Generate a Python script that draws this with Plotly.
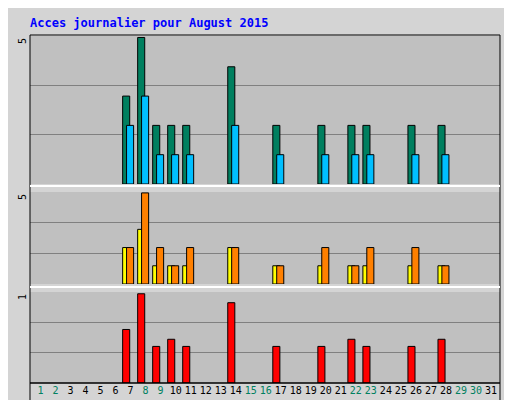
import plotly.graph_objects as go

days = list(range(1, 32))
hit_days = [7, 8, 9, 10, 11, 14, 17, 20, 22, 23, 26, 28]
hits = [3, 5, 2, 2, 2, 4, 2, 2, 2, 2, 2, 2]
pages = [2, 3, 1, 1, 1, 2, 1, 1, 1, 1, 1, 1]
visitors = [2, 3, 1, 1, 1, 2, 1, 1, 1, 1, 1, 1]
visits = [2, 5, 2, 1, 2, 2, 1, 2, 1, 2, 2, 1]
kb = [0.6, 1.0, 0.41, 0.49, 0.41, 0.9, 0.41, 0.41, 0.49, 0.41, 0.41, 0.49]
weekend = [1, 2, 8, 9, 15, 16, 22, 23, 29, 30]

fig = go.Figure()
line = dict(color="black", width=1)
fig.add_bar(x=hit_days, y=hits, width=0.47, offset=-0.53, marker=dict(color="#007f5f", line=line), yaxis="y3")
fig.add_bar(x=hit_days, y=pages, width=0.47, offset=-0.27, marker=dict(color="#00bfff", line=line), yaxis="y3")
fig.add_bar(x=hit_days, y=visitors, width=0.47, offset=-0.53, marker=dict(color="#ffff00", line=line), yaxis="y2")
fig.add_bar(x=hit_days, y=visits, width=0.47, offset=-0.27, marker=dict(color="#ff8000", line=line), yaxis="y2")
fig.add_bar(x=hit_days, y=kb, width=0.47, offset=-0.53, marker=dict(color="#ff0000", line=line), yaxis="y")

H = 348.0
def dom(top, bot):
    return [(375 - bot) / H, (375 - top) / H]

grid = dict(showgrid=True, gridcolor="#808080", gridwidth=1, showticklabels=False, ticks="", zeroline=False, showline=False)
fig.update_layout(
    width=512, height=400, margin=dict(l=22, r=20, t=27, b=25, autoexpand=False),
    paper_bgcolor="#d4d4d4", plot_bgcolor="#c0c0c0",
    barmode="overlay", showlegend=False,
    font=dict(family="DejaVu Sans Mono", size=11, color="black"),
    xaxis=dict(range=[0.3, 31.6], tickvals=days, tickangle=0, tickfont=dict(size=10),
               ticktext=[f'<span style="color:{"#008060" if d in weekend else "black"}">{d}</span>' for d in days],
               showgrid=False, zeroline=False, ticks="", showline=False),
    yaxis=dict(domain=dom(284, 375), range=[0, 1.02], dtick=1.02/3, **grid),
    yaxis2=dict(domain=dom(184, 276), range=[0, 5.05], dtick=5.05/3, **grid),
    yaxis3=dict(domain=dom(28, 176), range=[0, 5.05], dtick=5.05/3, **grid),
)
fig.add_annotation(x=0, y=1, xref="paper", yref="paper", xanchor="left", yanchor="bottom", yshift=3, xshift=-2,
                   text="<b>Acces journalier pour August 2015</b>", showarrow=False, font=dict(color="#0000ff", size=12))
for t, top in [("5", 28), ("5", 184), ("1", 284)]:
    fig.add_annotation(x=0, y=(375 - top) / H, xref="paper", yref="paper", text=t, textangle=-90, xshift=-8,
                       showarrow=False, xanchor="center", yanchor="top", font=dict(size=10))
right = [
    ('<span style="color:#00bfff">Pages</span> / <span style="color:#303090">Fichiers</span> / <span style="color:#007f5f">Hits</span>', 28, 176),
    ('<span style="color:#ffd000">Visites</span> / <span style="color:#ff8000">Sites</span> / <span style="color:#007f5f">Visites</span>', 184, 276),
    ('<span style="color:#ff0000">kB F</span> / <span style="color:#0000c0">kB In</span> / <span style="color:#007f5f">kB Out</span>', 284, 375),
]
for t, top, bot in right:
    fig.add_annotation(x=1.0, y=(375 - (top + bot) / 2) / H, xref="paper", yref="paper", text=t, textangle=-90,
                       showarrow=False, xanchor="left", xshift=1, yanchor="middle", font=dict(size=11))
shapes = [
    dict(type="rect", xref="paper", yref="paper", x0=0, x1=1, y0=0, y1=1, line=dict(color="black", width=1)),
    dict(type="line", xref="paper", yref="paper", x0=0, x1=1, y0=(375 - 178) / H, y1=(375 - 178) / H, line=dict(color="white", width=2)),
    dict(type="line", xref="paper", yref="paper", x0=0, x1=1, y0=(375 - 279) / H, y1=(375 - 279) / H, line=dict(color="white", width=2)),
    dict(type="rect", xref="paper", yref="paper", x0=0, x1=1, y0=-20 / H, y1=0, line=dict(color="black", width=1), fillcolor="rgba(0,0,0,0)"),
]
fig.update_layout(shapes=shapes)
fig.write_html("out.html")
